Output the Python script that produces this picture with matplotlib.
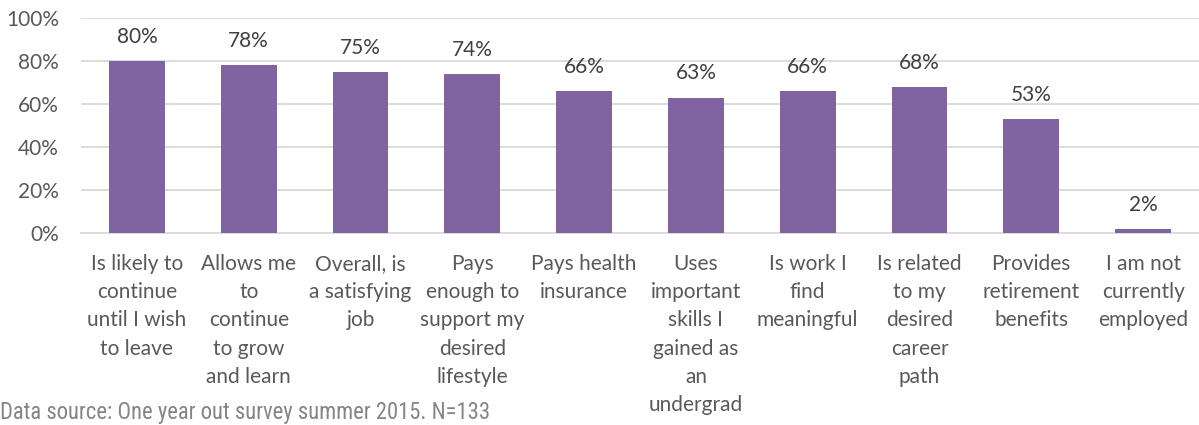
import matplotlib
matplotlib.use("Agg")
import matplotlib.pyplot as plt
from matplotlib.ticker import FuncFormatter
from matplotlib import font_manager
from matplotlib.font_manager import FontProperties

categories = [
    "Is likely to\ncontinue\nuntil I wish\nto leave",
    "Allows me\nto\ncontinue\nto grow\nand learn",
    "Overall, is\na satisfying\njob",
    "Pays\nenough to\nsupport my\ndesired\nlifestyle",
    "Pays health\ninsurance",
    "Uses\nimportant\nskills I\ngained as\nan\nundergrad",
    "Is work I\nfind\nmeaningful",
    "Is related\nto my\ndesired\ncareer\npath",
    "Provides\nretirement\nbenefits",
    "I am not\ncurrently\nemployed",
]
values = [80, 78, 75, 74, 66, 63, 66, 68, 53, 2]
yticks = [0, 20, 40, 60, 80, 100]
note = "Data source: One year out survey summer 2015. N=133"

ttf = font_manager.fontManager.ttflist
names = {f.name for f in ttf}
main_font = "Lato" if "Lato" in names else "DejaVu Sans"

# find a condensed sans font for the footnote, if any
note_fp = None
for pref in ["Liberation Sans Narrow", "Arial Narrow", "Roboto Condensed", "Open Sans Condensed", "DejaVu Sans Condensed"]:
    for f in ttf:
        if f.name == pref and f.weight in (400, "normal", "regular") and f.style == "normal":
            note_fp = FontProperties(fname=f.fname)
            break
    if note_fp:
        break
if note_fp is None:
    for f in ttf:
        if str(f.stretch) in ("condensed", "semi-condensed") and f.style == "normal" and f.weight in (400, "normal"):
            note_fp = FontProperties(fname=f.fname)
            break
if note_fp is None:
    note_fp = FontProperties(family="Liberation Sans")

plt.rcParams['font.family'] = [main_font, 'DejaVu Sans']

fig = plt.figure(figsize=(11.99, 4.25), dpi=100)
ax = fig.add_axes([81/1199, 1 - 233/425, 1118/1199, 215/425])

x = list(range(len(values)))
ax.bar(x, values, width=0.5, color="#8064A2", zorder=3)
for xi, v in zip(x, values):
    ax.text(xi, v + 11.2, f"{v}%", ha="center", va="center", fontsize=15, color="#404040")

ax.set_xlim(-0.5, len(values) - 0.5)
ax.set_ylim(0, 100)
ax.set_yticks(yticks)
ax.yaxis.set_major_formatter(FuncFormatter(lambda v, p: f"{int(v)}%"))
ax.grid(axis="y", color="#D9D9D9", linewidth=1.3, zorder=0)
for s in ["top", "right", "left"]:
    ax.spines[s].set_visible(False)
ax.spines["bottom"].set_color("#D9D9D9")
ax.spines["bottom"].set_linewidth(1.3)
ax.tick_params(axis="both", length=0, colors="#595959", labelsize=15)
ax.tick_params(axis="y", pad=16)
ax.set_xticks(x)
ax.set_xticklabels(categories, linespacing=1.52)
ax.tick_params(axis="x", pad=15)

note_fp.set_size(16)
t = fig.text(0.0, 1 - 412/425, note, fontproperties=note_fp, color="#858585", va="center", ha="left")
fig.canvas.draw()
w = t.get_window_extent().width
if w > 0:
    note_fp.set_size(16 * 492 / w)
    t.set_fontproperties(note_fp)

fig.savefig("out.png", dpi=100)
